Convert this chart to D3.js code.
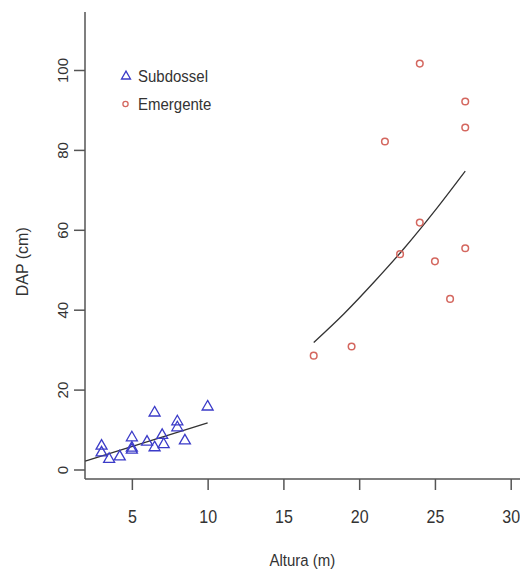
<!DOCTYPE html>
<html>
<head>
<meta charset="utf-8">
<script src="https://cdn.jsdelivr.net/npm/d3@7"></script>
<style>
  html, body { margin: 0; padding: 0; background: #fff; }
  svg { display: block; }
  text { font-family: "Liberation Sans", Arial, sans-serif; fill: #333; }
</style>
</head>
<body>
<svg id="chart" width="520" height="571"></svg>
<script>
// ---- data ----
const subAltura = [3, 3, 3.5, 4.2, 5, 5, 5, 6, 6.5, 6.5, 7, 7.1, 8, 8, 8.5, 10];
const subDAP    = [6, 4.3, 2.7, 3.3, 8.1, 5.0, 5.5, 7, 14.3, 5.6, 8.7, 6.4, 12.1, 10.6, 7.3, 15.8];
const emeAltura = [24, 27, 27, 21.7, 24, 22.7, 25, 27, 26, 19.5, 17];
const emeDAP    = [101.6, 92.1, 85.6, 82.1, 61.8, 53.9, 52.1, 55.4, 42.7, 30.8, 28.5];
// fitted curves
const subFitX = [1.92, 10];
const subFitY = [2.07, 11.7];
const emeFitX = [17, 19, 21, 23, 25, 27];
const emeFitY = [31.8, 39.0, 47.0, 55.5, 64.8, 74.7];
const xTicks = [5, 10, 15, 20, 25, 30];
const yTicks = [0, 20, 40, 60, 80, 100];
const legendLabels = ["Subdossel", "Emergente"];
const xTitle = "Altura (m)";
const yTitle = "DAP (cm)";

// ---- layout ----
const svg = d3.select("#chart");
const x = d3.scaleLinear().domain([0, 30]).range([56.1, 510.7]);
const y = d3.scaleLinear().domain([0, 100]).range([469.5, 70]);
const axisX = 85, axisY = 479;
const axisColor = "#555";
const triColor = "#3b3bc8";
const cirColor = "#d4675f";

// axis lines (L-shaped)
svg.append("line").attr("x1", axisX).attr("x2", axisX).attr("y1", 12).attr("y2", axisY)
  .attr("stroke", axisColor).attr("stroke-width", 1.5);
svg.append("line").attr("x1", axisX).attr("x2", 520).attr("y1", axisY).attr("y2", axisY)
  .attr("stroke", axisColor).attr("stroke-width", 1.5);

// x axis ticks
const gx = svg.append("g").attr("transform", `translate(0,${axisY})`)
  .call(d3.axisBottom(x).tickValues(xTicks).tickSize(11).tickSizeOuter(0));
gx.select(".domain").remove();
gx.selectAll(".tick line").attr("stroke", axisColor).attr("stroke-width", 1.5);
gx.selectAll(".tick text").remove();
gx.selectAll(".tick").append("text")
  .attr("transform", "translate(0,44) scale(1,1.2)")
  .attr("text-anchor", "middle")
  .attr("font-size", 16)
  .text(d => d);

// y axis ticks
const gy = svg.append("g").attr("transform", `translate(${axisX},0)`)
  .call(d3.axisLeft(y).tickValues(yTicks).tickSize(11).tickSizeOuter(0));
gy.select(".domain").remove();
gy.selectAll(".tick line").attr("stroke", axisColor).attr("stroke-width", 1.5);
gy.selectAll(".tick text").remove();
gy.selectAll(".tick").append("text")
  .attr("transform", "translate(-17,0) rotate(-90)")
  .attr("text-anchor", "middle")
  .attr("font-size", 15)
  .text(d => d);

// axis titles
svg.append("text")
  .attr("transform", `translate(${(x(5) + x(30)) / 2 - 19},566) scale(1,1.15)`)
  .attr("text-anchor", "middle").attr("font-size", 15).text(xTitle);
svg.append("text")
  .attr("transform", `translate(28,${y(52)}) rotate(-90)`)
  .attr("text-anchor", "middle").attr("font-size", 16).text(yTitle);

// fitted lines
const line = d3.line().x(d => x(d[0])).y(d => y(d[1])).curve(d3.curveMonotoneX);
svg.append("path").datum(subFitX.map((v, i) => [v, subFitY[i]]))
  .attr("d", line).attr("fill", "none").attr("stroke", "#333").attr("stroke-width", 1.3);
svg.append("path").datum(emeFitX.map((v, i) => [v, emeFitY[i]]))
  .attr("d", line).attr("fill", "none").attr("stroke", "#333").attr("stroke-width", 1.3);

// triangle path generator
function tri(s) {
  const h = s * 0.87;
  return `M0,${-h * 0.62}L${s / 2},${h * 0.38}L${-s / 2},${h * 0.38}Z`;
}

// points
svg.append("g").selectAll("path")
  .data(subAltura.map((v, i) => [v, subDAP[i]]))
  .join("path")
  .attr("transform", d => `translate(${x(d[0])},${y(d[1])})`)
  .attr("d", tri(11))
  .attr("fill", "none").attr("stroke", triColor).attr("stroke-width", 1.3);

svg.append("g").selectAll("circle")
  .data(emeAltura.map((v, i) => [v, emeDAP[i]]))
  .join("circle")
  .attr("cx", d => x(d[0])).attr("cy", d => y(d[1])).attr("r", 3.3)
  .attr("fill", "none").attr("stroke", cirColor).attr("stroke-width", 1.5);

// legend
const lg = svg.append("g");
lg.append("path").attr("transform", "translate(126,76)").attr("d", tri(9))
  .attr("fill", "none").attr("stroke", triColor).attr("stroke-width", 1.3);
lg.append("circle").attr("cx", 125.5).attr("cy", 104).attr("r", 2.6)
  .attr("fill", "none").attr("stroke", cirColor).attr("stroke-width", 1.3);
lg.selectAll("text.lab").data(legendLabels).join("text")
  .attr("class", "lab")
  .attr("transform", (d, i) => `translate(138,${82 + i * 28}) scale(1,1.12)`)
  .attr("font-size", 15).text(d => d);
</script>
</body>
</html>
